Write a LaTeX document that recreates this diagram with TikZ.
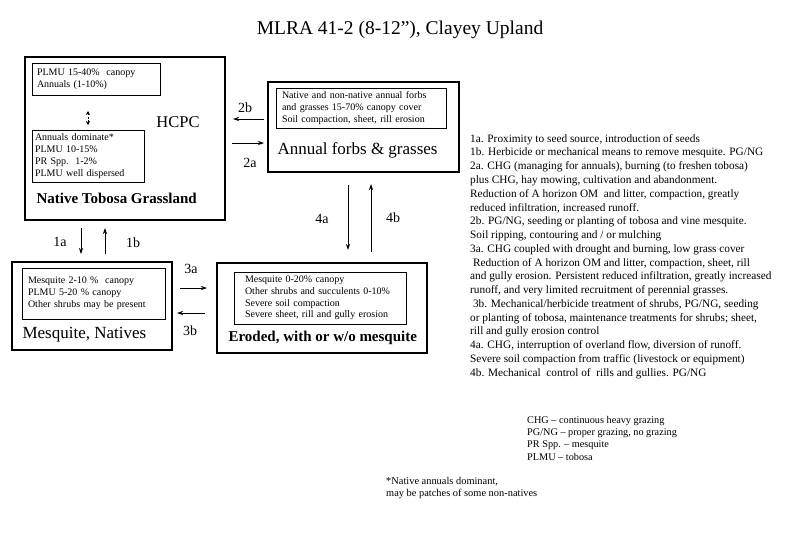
\documentclass[tikz,border=0pt]{standalone}
\usepackage{fontspec}
\setmainfont{Liberation Serif}
\usetikzlibrary{arrows.meta}
\begin{document}
\begin{tikzpicture}[x=1pt,y=-1pt,
  outerbox/.style={draw,line width=2.4pt,minimum width=#1},
  innerbox/.style={draw,line width=0.8pt,align=left,inner sep=0pt},
  small/.style={font=\fontsize{10}{11.8}\selectfont},
  big/.style={font=\fontsize{17}{19}\selectfont},
  bigbold/.style={font=\fontsize{15}{17}\selectfont\bfseries},
  lbl/.style={font=\fontsize{14}{16}\selectfont},
  arr/.style={-{Stealth[length=6pt,width=4pt]},line width=0.7pt},
  notes/.style={font=\fontsize{11.3}{13.77}\selectfont,align=left,anchor=north west,inner sep=0pt},
]
\useasboundingbox (0,0) rectangle (800,536);
\fill[white] (0,0) rectangle (800,536);

% title
\node[font=\fontsize{19.5}{22}\selectfont] (title) at (400,30) {MLRA 41-2 (8-12”), Clayey Upland};

% HCPC box
\node[outerbox=200pt,minimum height=163pt] (hcpc) at (125,138.5) {};
\node[innerbox,small,minimum width=128pt,minimum height=32pt,text width=118pt] (h1) at (96,79) {PLMU 15-40\%\ \ canopy\\Annuals (1-10\%)};
\node[innerbox,small,minimum width=112pt,minimum height=52pt,text width=106pt] (h2) at (88,156) {Annuals dominate*\\PLMU 10-15\%\\PR Spp.\ \ 1-2\%\\PLMU well dispersed};
\coordinate (da) at (88,111);
\coordinate (db) at (88,125);
\draw[{Stealth[length=4pt,width=4pt]}-{Stealth[length=4pt,width=4pt]},line width=0.7pt,dash pattern=on 2pt off 1.5pt] (da) -- (db);
\node[font=\fontsize{16.5}{19}\selectfont] (hcpclbl) at (178,122) {HCPC};
\node[bigbold,anchor=west] (ntg) at (33,198) {Native Tobosa Grassland};

% Annual forbs box
\node[outerbox=191pt,minimum height=90pt] (ann) at (363.5,127) {};
\node[innerbox,small,minimum width=170pt,minimum height=40pt,text width=158pt] (a1) at (361,108) {Native and non-native annual forbs\\and grasses 15-70\% canopy cover\\Soil compaction, sheet, rill erosion};
\node[big,anchor=west] (annlbl) at (274,150) {Annual forbs \& grasses};

% Mesquite box
\node[outerbox=160pt,minimum height=88pt] (mes) at (92,306) {};
\node[innerbox,small,minimum width=143pt,minimum height=51pt,text width=131pt] (m1) at (93.5,293.5) {Mesquite 2-10 \%\ \ canopy\\PLMU 5-20 \% canopy\\Other shrubs may be present};
\node[big,anchor=west] (meslbl) at (19,335) {Mesquite, Natives};

% Eroded box
\node[outerbox=210pt,minimum height=90pt] (ero) at (322,308) {};
\node[innerbox,small,minimum width=172pt,minimum height=52pt,text width=150pt] (e1) at (320,298) {Mesquite 0-20\% canopy\\Other shrubs and succulents 0-10\%\\Severe soil compaction\\Severe sheet, rill and gully erosion};
\node[bigbold,anchor=west] (erolbl) at (225,338) {Eroded, with or w/o mesquite};

% arrows 1a/1b
\coordinate (a1s) at (81,228); \coordinate (a1e) at (81,254);
\coordinate (b1s) at (105,254); \coordinate (b1e) at (105,228);
\draw[arr] (a1s) -- (a1e);
\draw[arr] (b1s) -- (b1e);
\node[lbl] (l1a) at (60,242) {1a};
\node[lbl] (l1b) at (133,243) {1b};

% arrows 2a/2b
\coordinate (b2s) at (264,119); \coordinate (b2e) at (233,119);
\coordinate (a2s) at (232,143); \coordinate (a2e) at (264,143);
\draw[arr] (b2s) -- (b2e);
\draw[arr] (a2s) -- (a2e);
\node[lbl] (l2b) at (245,108) {2b};
\node[lbl] (l2a) at (250,163) {2a};

% arrows 3a/3b
\coordinate (a3s) at (180,288); \coordinate (a3e) at (207,288);
\coordinate (b3s) at (205,313); \coordinate (b3e) at (177,313);
\draw[arr] (a3s) -- (a3e);
\draw[arr] (b3s) -- (b3e);
\node[lbl] (l3a) at (191,269) {3a};
\node[lbl] (l3b) at (190,331) {3b};

% arrows 4a/4b
\coordinate (a4s) at (348,185); \coordinate (a4e) at (348,250);
\coordinate (b4s) at (371,252); \coordinate (b4e) at (371,184);
\draw[arr] (a4s) -- (a4e);
\draw[arr] (b4s) -- (b4e);
\node[lbl] (l4a) at (322,219) {4a};
\node[lbl] (l4b) at (393,218) {4b};

% notes
\node[notes] (notes) at (470,134) {1a. Proximity to seed source, introduction of seeds\\
1b. Herbicide or mechanical means to remove mesquite. PG/NG\\
2a. CHG (managing for annuals), burning (to freshen tobosa)\\
plus CHG, hay mowing, cultivation and abandonment.\\
Reduction of A horizon OM\ \ and litter, compaction, greatly\\
reduced infiltration, increased runoff.\\
2b. PG/NG, seeding or planting of tobosa and vine mesquite.\\
Soil ripping, contouring and / or mulching\\
3a. CHG coupled with drought and burning, low grass cover\\
\ Reduction of A horizon OM and litter, compaction, sheet, rill\\
and gully erosion. Persistent reduced infiltration, greatly increased\\
runoff, and very limited recruitment of perennial grasses.\\
\ 3b. Mechanical/herbicide treatment of shrubs, PG/NG, seeding\\
or planting of tobosa, maintenance treatments for shrubs; sheet,\\
rill and gully erosion control\\
4a. CHG, interruption of overland flow, diversion of runoff.\\
Severe soil compaction from traffic (livestock or equipment)\\
4b. Mechanical\ \ control of\ \ rills and gullies. PG/NG};

% legend
\node[notes,font=\fontsize{10.25}{12.3}\selectfont] (legend) at (527,416) {CHG -- continuous heavy grazing\\
PG/NG -- proper grazing, no grazing\\
PR Spp. -- mesquite\\
PLMU -- tobosa};

% footnote
\node[notes,font=\fontsize{10.4}{12.5}\selectfont] (foot) at (386,477) {*Native annuals dominant,\\
may be patches of some non-natives};
\end{tikzpicture}
\end{document}
